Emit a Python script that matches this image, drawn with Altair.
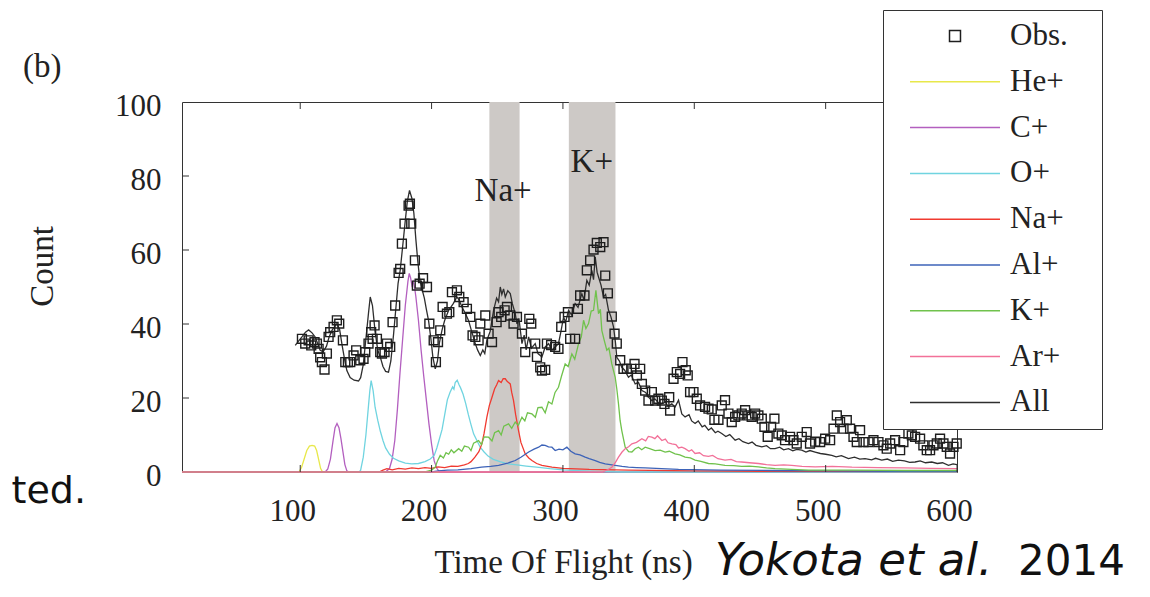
import altair as alt
import pandas as pd

SERIF = "Liberation Serif"
SANS = "DejaVu Sans"

# ---------------- data ----------------
series_names = ["Obs.", "He+", "C+", "O+", "Na+", "Al+", "K+", "Ar+", "All"]
series_colors = ["#1e1e1e", "#e8e84a", "#b35fbf", "#70d4e0", "#f03a30",
                 "#3d63b8", "#70c24c", "#f27199", "#2e2e2e"]
shape_range = ["M-0.122,-0.122H0.122V0.122H-0.122Z"] + ["stroke"] * 8

x_ticks = [100, 200, 300, 400, 500, 600]
y_ticks = [0, 20, 40, 60, 80, 100]
y_inner_ticks = [20, 40, 60, 80]

band_start = [244.0, 304.5]
band_end = [267.0, 340.0]

ann_text = ["Na+", "K+"]
ann_x = [254.5, 322.0]
ann_y = [76.0, 83.7]

he_pts = [(10, 0), (99, 0), (101, 1.2), (103, 3.5), (105, 5.8), (107, 7.0), (109, 7.2),
          (111, 7.0), (112.5, 5.8), (114, 3.4), (115.5, 1.0), (117, 0), (600, 0)]

c_pts = [(10, 0), (119, 0), (121, 0.8), (123, 3.5), (125, 8.5), (126.5, 12), (128, 13.1),
         (129.5, 12), (131, 9), (132.5, 5.5), (134, 2), (135.5, 0.3), (137, 0), (165, 0),
         (168, 1.0), (170, 3.5), (172, 8.5), (174, 17), (176, 27), (178, 36), (180, 45),
         (182, 51.5), (183, 53.7), (184, 52.5), (185, 50.5), (186, 51.5), (187, 50),
         (188, 47.5), (190, 41), (192, 33), (194, 26), (196, 19.5), (198, 13), (200, 7.5),
         (202, 3), (204, 1), (206, 0), (600, 0)]

o_pts = [(10, 0), (145, 0), (146, 0.5), (148, 4), (150, 10), (152, 18), (153, 22),
         (154, 24.7), (155.5, 22), (157, 17.5), (159, 14), (161, 11), (163, 8.5),
         (165, 6.5), (168, 4.8), (171, 3.7), (175, 3.0), (180, 2.4), (185, 2.2),
         (190, 2.3), (195, 2.8), (199, 3.5), (202, 4.5), (204, 6.5), (206, 9), (208, 11.5),
         (210, 15.5), (212, 19.5), (214, 21.5), (216, 23), (217, 22.4), (218, 24.2),
         (219.5, 24.8), (221, 23.5), (222, 22.8), (224, 21), (226, 18.5), (228, 15.5),
         (230, 12.8), (232, 10.3), (234.5, 8.5), (237, 6.7), (240, 5.4), (243, 4.3),
         (247, 3.4), (252, 2.8), (258, 2.2), (265, 1.9), (272, 1.6), (280, 1.3),
         (290, 0.9), (300, 0.6), (315, 0.3), (330, 0.1), (345, 0), (600, 0)]

na_pts = [(10, 0), (160, 0), (163, 0.5), (166, 0.9), (170, 0.6), (175, 1.0), (180, 0.8),
          (185, 1.1), (190, 0.9), (195, 1.2), (200, 1.0), (205, 1.4), (210, 1.2),
          (215, 1.6), (220, 1.5), (225, 1.9), (228, 2.3), (230, 2.8), (233, 4.0),
          (236, 5.5), (238.3, 7.6), (240, 10.5), (242.1, 14.8), (244, 18), (246, 20.2),
          (248, 22.5), (249.5, 23.5), (251, 24.7), (253, 24.2), (254.5, 25.2),
          (256.1, 25.2), (257.5, 24.5), (259.9, 23.8), (261, 21.5), (262.4, 19.3),
          (264, 15.5), (266.2, 11.2), (268, 8), (271.3, 4.9), (274, 3.8), (276.4, 3.1),
          (280, 2.3), (284, 1.8), (291.6, 1.3), (300, 1.0), (320, 0.7), (350, 0.5),
          (400, 0.3), (450, 0.2), (600, 0.1)]

al_pts = [(10, 0), (200, 0), (205, 0.3), (212, 0.5), (220, 0.6), (230, 0.9), (238, 1.3),
          (245, 1.5), (251, 1.8), (258, 2.4), (263.7, 3.1), (268, 4.0), (273.9, 5.4),
          (278, 6.2), (281.5, 6.7), (284, 7.3), (286.5, 7.2), (289, 6.8), (291.6, 6.7),
          (294.1, 5.8), (297, 6.2), (300, 6.0), (303, 6.7), (306, 5.6), (309.3, 4.9),
          (313, 4.6), (316.9, 4.0), (320, 3.6), (324.6, 3.1), (328, 2.6), (332.2, 2.2),
          (336, 2.0), (339.8, 1.8), (345, 1.5), (349.9, 1.3), (356, 1.2), (362.6, 1.1),
          (375, 0.9), (388, 0.7), (420, 0.5), (460, 0.4), (500, 0.3), (550, 0.2), (600, 0.2)]

k_pts = [(10, 0), (195, 0), (200, 0.5), (202.8, 1.3), (204.5, 3), (206.6, 4.5), (209, 3.8),
         (211, 5.2), (213, 4.8), (215, 6), (217, 5.2), (220.6, 6.3), (223, 5.6), (225, 7),
         (228.2, 6.7), (230, 5.8), (232, 7.8), (235.8, 8.5), (238, 7.4), (240, 9.5),
         (243.4, 9.4), (246, 8.4), (248, 10.6), (251, 11.2), (253, 10), (255, 12.4),
         (258.6, 13), (261, 11.8), (263.7, 13.5), (266, 12.6), (268.8, 14.8), (271, 13.8),
         (273, 16), (276.4, 15.7), (279, 14.8), (281, 17.4), (284, 17.5), (286.5, 16),
         (289, 19), (291.6, 18.4), (294, 21.5), (296.6, 22.9), (299, 26), (301.7, 29.2),
         (304, 28.5), (306.8, 31.9), (309, 30.5), (311.9, 34.7), (314, 36.5), (315.7, 41),
         (317.5, 38.8), (319.5, 40.1), (321.5, 43.5), (323.3, 43.7), (325.1, 49.1),
         (327.1, 42.8), (328.5, 44), (329.6, 38.3), (331.5, 35.5), (333.4, 32.9),
         (335, 33.5), (337.2, 29.2), (339.8, 25.6), (341, 22.5), (342.3, 18.4), (343.5, 14),
         (344.8, 11.2), (347.4, 6.7), (350, 5.5), (352.5, 5.4), (355, 6.3), (357.5, 6.7),
         (360, 6.0), (362.6, 6.7), (366, 6.3), (370.2, 5.8), (374, 5.9), (377.8, 5.4),
         (381, 5.6), (385.4, 4.9), (389, 4.6), (393, 4.0), (397, 3.8), (400.6, 3.2),
         (405, 2.9), (410.8, 2.3), (416, 2.2), (423.4, 1.8), (430, 1.7), (436.1, 1.5),
         (442, 1.6), (448.8, 1.4), (455, 1.1), (461.5, 0.9), (470, 0.8), (487, 0.5),
         (520, 0.5), (560, 0.4), (600, 0.4)]

ar_pts = [(10, 0), (330, 0), (334, 0.6), (337.2, 1.3), (340, 2.6), (342.3, 4), (345, 5.4),
          (347.4, 6.3), (350, 6.8), (352.5, 7.6), (356, 8.0), (360.1, 9.0), (363, 8.4),
          (365, 9.6), (367.7, 9.4), (370, 9.0), (372, 9.8), (375.3, 8.5), (378, 8.9),
          (380, 7.9), (382.9, 7.6), (386, 7.4), (388, 6.5), (390.5, 6.7), (393, 6.3),
          (396, 5.6), (398, 6.0), (400.6, 5.0), (404, 5.2), (407, 4.4), (410.8, 4.2),
          (414, 4.5), (418, 3.6), (423.4, 3.2), (428, 3.4), (432, 2.8), (436.1, 2.7),
          (442, 2.5), (448.8, 2.3), (455, 2.0), (461.5, 1.8), (468, 1.9), (474.2, 1.8),
          (482, 1.5), (492, 1.4), (505, 1.5), (520, 1.3), (540, 1.2), (560, 1.1),
          (580, 1.0), (600, 0.9)]

all_pts = [(96.2, 34.2), (99, 35.5), (101.3, 36.5), (104, 37.8), (106.4, 38.4), (109, 37.6),
           (111.4, 36.5), (113.5, 34.5), (115.2, 32.9), (117.5, 32.5), (120, 34), (122, 36.5),
           (124.5, 38.5), (127.9, 40.1), (130, 38.5), (132, 34), (134, 30), (135.5, 27.4),
           (138, 25.5), (141, 24.8), (144.4, 24.6), (146, 25.5), (148, 29), (150, 36),
           (152, 43), (153.3, 47.3), (155, 45), (157, 38), (159, 33), (160.9, 31.1),
           (163, 28.5), (165, 27.2), (167.2, 27), (169, 30), (171, 37), (173, 45),
           (174.5, 51), (176.1, 54.5), (178, 61), (180, 68), (181.5, 73), (183.2, 76.1),
           (185, 74), (186.5, 70), (188, 63), (189.5, 57), (191, 52), (193, 49),
           (194.5, 47), (196, 44), (197.7, 40.9), (199.5, 36), (201, 31), (202.8, 27.9),
           (204.5, 30), (206, 35), (207.9, 38.3), (210, 41), (213, 43.7), (216.5, 45.5),
           (219.3, 47.3), (221, 46.5), (223.1, 44.6), (225.5, 43), (228.2, 40.9),
           (230.5, 38), (233.3, 34.7), (235, 33), (237.1, 31.5), (239, 33), (240.5, 32),
           (242.1, 35.6), (244.6, 38), (247.2, 43.7), (249.5, 47), (251, 46), (252.3, 50),
           (253.5, 48), (254.8, 49.5), (256.1, 47.3), (258, 49), (259.9, 48.2),
           (261.5, 45.5), (263.7, 42.8), (265, 40), (266.5, 41.5), (268.8, 34.7),
           (270.5, 37), (272, 33), (273.9, 36.5), (276, 33.5), (278.9, 34.7), (281, 32),
           (284, 31.1), (286.5, 33.8), (289.1, 34.7), (291.6, 32.9), (294.1, 33.8),
           (296.6, 34.7), (298.5, 38), (300.5, 41.9), (302, 40.5), (304.3, 43.7),
           (306.5, 42.5), (309.3, 45.5), (311.5, 44.5), (314.4, 48.2), (316, 46.5),
           (318.2, 51.8), (320, 50.5), (322, 54.5), (323.3, 52), (324.6, 58.1), (326, 54),
           (327.1, 52.7), (329, 50.5), (330.9, 47.3), (332.5, 48), (334.7, 43.7),
           (336.5, 42), (338.5, 39.2), (340, 35), (341, 31), (343, 30), (344.8, 28.3),
           (347, 27.5), (349.9, 25.6), (352, 26.2), (355, 23.8), (357.5, 24.2),
           (360.1, 22), (363, 21.5), (365, 20.3), (367.7, 19.3), (370, 19.8), (373, 18.6),
           (375.3, 18.4), (378, 18.9), (380, 17.8), (382.9, 18.4), (385.4, 17.6),
           (388, 19.4), (390.5, 15.7), (393, 14.9), (396, 15.5), (398, 13.8),
           (400.6, 13.1), (403, 13.8), (406, 12.2), (408, 12.6), (410.8, 11.3),
           (413, 11.9), (416, 10.6), (418, 11.0), (420.9, 10.4), (424, 9.6), (427, 10.1),
           (431.1, 8.6), (434, 9.0), (437, 8.2), (441.2, 7.7), (444, 8.1), (447, 7.2),
           (451.4, 6.8), (455, 7.1), (458, 6.3), (461.5, 6.3), (465, 6.7), (468, 6.0),
           (471.7, 6.3), (475, 5.7), (478, 6.1), (481.8, 5.9), (485, 5.4), (488, 5.8),
           (492, 5.4), (496, 5.0), (500, 4.8), (504.7, 4.5), (508, 4.1), (512, 4.4),
           (517.4, 3.6), (522, 4.0), (526, 3.5), (530, 3.6), (535, 3.3), (538, 3.7),
           (542.7, 3.2), (547, 3.5), (551, 2.9), (555.4, 3.2), (560, 3.0), (564, 2.6),
           (568.1, 2.7), (572, 3.0), (576, 2.5), (580.8, 2.7), (585, 2.3), (589, 2.5),
           (593.5, 1.8), (597, 2.2), (600, 2.0)]

obs_pts = [(101.3, 36.0), (103.8, 34.7), (106.4, 35.6), (108.4, 34.2), (110.9, 35.1),
           (112.7, 34.7), (114.0, 33.3), (115.2, 31.0), (116.5, 29.7), (118.5, 27.7),
           (120.3, 32.0), (121.6, 36.5), (122.8, 37.8), (125.4, 39.2), (127.9, 41.0),
           (129.7, 40.1), (132.5, 35.6), (134.3, 29.7), (136.3, 29.7), (138.1, 29.7),
           (140.6, 31.5), (142.6, 32.9), (145.7, 30.2), (148.2, 30.6), (149.5, 32.4),
           (152.0, 34.7), (154.0, 37.8), (155.1, 36.0), (156.6, 39.6), (158.4, 36.0),
           (160.9, 32.4), (162.2, 32.0), (164.2, 32.4), (166.0, 34.7), (168.5, 33.8),
           (170.3, 40.5), (172.3, 45.0), (174.9, 53.8), (176.1, 54.9), (177.4, 61.7),
           (179.4, 67.1), (182.5, 72.0), (183.5, 72.5), (184.5, 67.1), (187.3, 57.2),
           (188.8, 50.4), (190.9, 50.9), (193.5, 52.4), (196.5, 50.0), (198.3, 40.1),
           (201.6, 35.6), (203.3, 29.7), (204.9, 35.1), (206.6, 38.3), (208.4, 44.6),
           (211.7, 42.8), (213.5, 43.2), (215.5, 48.6), (219.3, 49.1), (221.1, 47.3),
           (224.4, 45.9), (226.9, 44.1), (229.5, 41.9), (231.2, 36.9), (233.3, 36.5),
           (235.8, 35.6), (237.1, 40.1), (240.9, 42.3), (243.4, 37.4), (246.0, 35.1),
           (249.5, 40.5), (251.0, 43.2), (253.0, 41.9), (255.6, 43.7), (257.4, 44.6),
           (259.9, 42.3), (262.4, 40.1), (265.0, 41.9), (268.8, 37.4), (271.3, 32.4),
           (274.4, 41.4), (275.9, 40.1), (278.9, 34.7), (280.2, 31.1), (282.7, 28.3),
           (284.0, 27.4), (286.5, 27.6), (287.8, 34.7), (291.0, 34.3), (294.1, 33.8),
           (296.6, 33.3), (298.7, 39.2), (301.2, 41.9), (303.8, 43.2), (305.5, 36.0),
           (309.3, 36.0), (311.4, 44.1), (313.1, 47.7), (316.4, 47.7), (318.2, 54.5),
           (320.7, 57.2), (323.3, 60.1), (325.8, 61.9), (328.4, 60.8), (330.9, 62.1),
           (332.2, 53.1), (334.2, 48.3), (337.2, 42.0), (339.3, 37.4), (341.0, 34.7),
           (343.6, 30.2), (346.1, 27.9), (348.7, 27.9), (352.0, 27.9), (354.5, 29.2),
           (356.3, 26.1), (358.8, 27.9), (360.1, 23.8), (362.6, 22.0), (365.1, 19.3),
           (367.7, 21.6), (370.2, 19.3), (372.7, 19.8), (375.3, 19.3), (377.3, 18.4),
           (380.9, 20.2), (381.6, 16.6), (384.2, 25.2), (386.7, 27.0), (389.2, 26.5),
           (391.0, 29.7), (393.5, 27.5), (395.0, 26.1), (396.8, 21.6), (399.4, 21.6),
           (401.9, 19.8), (404.4, 18.0), (408.2, 17.6), (410.8, 17.1), (413.3, 16.9),
           (415.3, 14.1), (418.4, 14.1), (420.9, 18.0), (423.4, 19.4), (426.0, 15.8),
           (428.5, 13.5), (431.1, 14.9), (433.6, 15.3), (436.1, 15.8), (438.7, 16.7),
           (441.2, 15.3), (443.7, 14.9), (446.3, 15.8), (448.8, 15.3), (451.4, 14.4),
           (453.4, 12.2), (455.9, 9.5), (458.5, 12.2), (461.0, 14.4), (464.0, 10.4),
           (466.6, 9.9), (469.1, 8.6), (472.9, 9.5), (475.5, 8.6), (478.0, 7.7),
           (481.8, 9.5), (485.6, 10.8), (488.1, 7.7), (492.0, 8.2), (495.8, 8.1),
           (499.6, 9.0), (503.4, 8.6), (506.0, 11.7), (508.5, 15.3), (511.0, 13.5),
           (513.6, 11.7), (516.1, 14.0), (518.6, 11.7), (521.2, 9.5), (523.7, 8.1),
           (526.2, 11.3), (528.8, 8.1), (532.6, 8.1), (536.4, 8.6), (540.2, 8.1),
           (544.0, 7.2), (546.5, 6.3), (549.1, 7.7), (552.9, 8.6), (556.7, 5.9),
           (559.2, 8.1), (563.0, 10.4), (565.6, 9.9), (568.1, 9.5), (571.9, 9.0),
           (574.4, 7.2), (577.0, 5.9), (579.5, 5.9), (582.1, 7.2), (584.6, 7.7),
           (587.1, 9.0), (589.7, 7.7), (592.2, 6.8), (594.7, 5.0), (597.3, 6.8),
           (599.8, 7.7)]

line_series = [("He+", he_pts), ("C+", c_pts), ("O+", o_pts), ("Na+", na_pts),
               ("Al+", al_pts), ("K+", k_pts), ("Ar+", ar_pts), ("All", all_pts)]

# ---------------- scales / guides ----------------
W, H = 775, 370
BLANK = "\u2800"   # blank (non-whitespace) glyph, widens the legend box on the right
xscale = alt.Scale(domain=[10, 600], nice=False, zero=False)
yscale = alt.Scale(domain=[0, 100], nice=False, zero=False)
cscale = alt.Scale(domain=series_names, range=series_colors)
sscale = alt.Scale(domain=series_names, range=shape_range)

leg = alt.Legend(
    title=None, orient="none", legendX=701, legendY=-92,
    fillColor="white", strokeColor="#333333", padding=11,
    labelFont=SERIF, labelFontSize=31, labelColor="#222222", labelLimit=400,
    symbolSize=8100, clipHeight=30, rowPadding=14.8,
    symbolOffset=15, labelOffset=9, symbolStrokeWidth=1.5,
    labelExpr="datum.label == 'Obs.' ? 'Obs." + BLANK + "' : datum.label",
)

xaxis = alt.Axis(
    values=x_ticks, title="Time Of Flight (ns)", grid=False, domain=False,
    ticks=False, tickSize=0, labelFont=SERIF, labelFontSize=31, labelColor="#222222",
    labelPadding=24, labelOffset=-8, labelFlush=False, labelOverlap=False,
    titleFont=SERIF, titleFontSize=33, titleFontWeight="normal", titleColor="#222222",
    titleX=381, titleY=100, titleBaseline="alphabetic", titleAlign="center",
)
yaxis = alt.Axis(
    values=y_ticks, title="Count", grid=False, domain=False,
    ticks=False, tickSize=0, labelFont=SERIF, labelFontSize=31, labelColor="#222222",
    labelPadding=21, labelOffset=4, labelFlush=False, labelOverlap=False,
    titleFont=SERIF, titleFontSize=33, titleFontWeight="normal", titleColor="#222222",
    titleX=-130, titleY=164, titleAngle=270, titleBaseline="alphabetic", titleAlign="center",
)


def X(field):
    return alt.X(field, scale=xscale, axis=xaxis)


def Y(field):
    return alt.Y(field, scale=yscale, axis=yaxis)


# ---------------- layers ----------------
layers = []

band_df = pd.DataFrame({"x0": band_start, "x1": band_end})
layers.append(
    alt.Chart(band_df).mark_rect(color="#cdc9c6").encode(
        x=X("x0:Q"), x2="x1:Q", y=alt.value(0), y2=alt.value(H))
)

for name, pts in line_series:
    df = pd.DataFrame({"x": [p[0] for p in pts], "y": [p[1] for p in pts], "series": name})
    layers.append(
        alt.Chart(df).mark_line(strokeWidth=1.3).encode(
            x=X("x:Q"), y=Y("y:Q"),
            color=alt.Color("series:N", scale=cscale, legend=leg),
        )
    )

obs_df = pd.DataFrame({"x": [p[0] for p in obs_pts], "y": [p[1] for p in obs_pts], "series": "Obs."})
layers.append(
    alt.Chart(obs_df).mark_point(filled=False, size=5300, strokeWidth=1.4, opacity=1).encode(
        x=X("x:Q"), y=Y("y:Q"),
        color=alt.Color("series:N", scale=cscale, legend=leg),
        shape=alt.Shape("series:N", scale=sscale, legend=leg),
    )
)

xt_df = pd.DataFrame({"t": x_ticks})
yt_df = pd.DataFrame({"t": y_inner_ticks})
layers.append(alt.Chart(xt_df).mark_rule(color="#333333").encode(
    x=X("t:Q"), y=alt.value(H), y2=alt.value(H - 7)))
layers.append(alt.Chart(xt_df).mark_rule(color="#333333").encode(
    x=X("t:Q"), y=alt.value(0), y2=alt.value(7)))
layers.append(alt.Chart(yt_df).mark_rule(color="#333333").encode(
    y=Y("t:Q"), x=alt.value(0), x2=alt.value(7)))

ann_df = pd.DataFrame({"x": ann_x, "y": ann_y, "t": ann_text})
layers.append(alt.Chart(ann_df).mark_text(font=SERIF, fontSize=33, color="#222222",
                                          baseline="middle", align="center").encode(
    x=X("x:Q"), y=Y("y:Q"), text="t:N"))

one = pd.DataFrame({"k": [0]})
layers.append(alt.Chart(one).mark_text(text="(b)", font=SERIF, fontSize=33, color="#222222",
                                       align="left", baseline="alphabetic").encode(
    x=alt.value(-159), y=alt.value(-25)))
layers.append(alt.Chart(one).mark_text(text="Yokota et al.", font=SANS, fontSize=45,
                                       fontStyle="italic", color="#111111",
                                       align="left", baseline="alphabetic").encode(
    x=alt.value(533), y=alt.value(473)))
layers.append(alt.Chart(one).mark_text(text="2014", font=SANS, fontSize=42, color="#111111",
                                       align="left", baseline="alphabetic").encode(
    x=alt.value(836), y=alt.value(473)))
layers.append(alt.Chart(one).mark_text(text="ted.", font=SANS, fontSize=38, color="#111111",
                                       align="right", baseline="alphabetic").encode(
    x=alt.value(-96), y=alt.value(401)))

chart = alt.layer(*layers).properties(
    width=W, height=H,
    autosize=alt.AutoSizeParams(type="none"),
    padding={"left": 174, "top": 94, "right": 176, "bottom": 113},
    background="white",
).configure_view(stroke="#333333", strokeWidth=1)

chart.save("out.html", embed_options={"renderer": "svg", "actions": False})
